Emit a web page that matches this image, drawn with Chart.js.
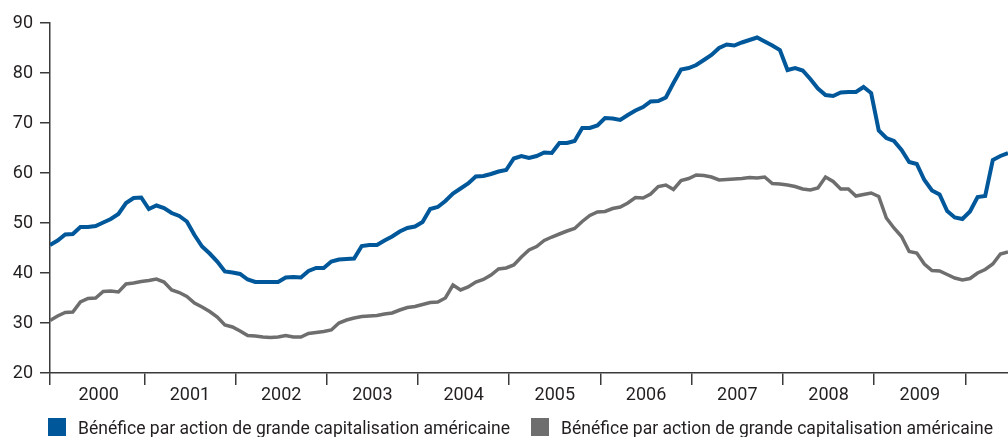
<!DOCTYPE html>
<html>
<head>
<meta charset="utf-8">
<script src="https://cdn.jsdelivr.net/npm/chart.js@4"></script>
<style>
  html, body { margin: 0; padding: 0; background: #fff; }
  #wrap { width: 1008px; height: 437px; position: relative; }
</style>
</head>
<body>
<div id="wrap"><canvas id="epsChart" width="1008" height="437"></canvas></div>
<script>
// Monthly values, Jan 2000 onwards (index 0 = Jan 2000)
const blueSeries = [
  45.6, 46.5, 47.7, 47.8, 49.2, 49.2, 49.4, 50.1, 50.8, 51.8, 54.0, 55.0,
  55.1, 52.8, 53.5, 53.0, 52.0, 51.4, 50.3, 47.6, 45.3, 43.9, 42.3, 40.3,
  40.1, 39.8, 38.7, 38.2, 38.2, 38.2, 38.2, 39.1, 39.2, 39.1, 40.4, 41.0,
  41.0, 42.3, 42.7, 42.8, 42.9, 45.4, 45.6, 45.6, 46.5, 47.3, 48.3, 49.0,
  49.3, 50.2, 52.8, 53.2, 54.4, 55.9, 56.9, 57.9, 59.3, 59.4, 59.8, 60.3,
  60.6, 62.9, 63.4, 63.0, 63.4, 64.1, 64.0, 66.0, 66.0, 66.4, 69.0, 69.0,
  69.5, 71.0, 70.9, 70.6, 71.6, 72.5, 73.2, 74.3, 74.4, 75.1, 78.0, 80.7,
  81.0, 81.6, 82.6, 83.6, 85.0, 85.7, 85.5, 86.1, 86.6, 87.1, 86.3, 85.5,
  84.6, 80.6, 81.0, 80.5, 78.8, 76.9, 75.6, 75.4, 76.1, 76.2, 76.2, 77.2,
  76.0, 68.5, 67.0, 66.4, 64.6, 62.2, 61.8, 58.6, 56.5, 55.7, 52.4, 51.1,
  50.8, 52.3, 55.2, 55.4, 62.6, 63.4, 64.0
];

const graySeries = [
  30.5, 31.4, 32.1, 32.2, 34.2, 34.9, 35.0, 36.3, 36.4, 36.2, 37.8, 38.0,
  38.3, 38.5, 38.8, 38.2, 36.6, 36.1, 35.3, 34.0, 33.2, 32.3, 31.2, 29.6,
  29.2, 28.4, 27.5, 27.4, 27.2, 27.1, 27.2, 27.5, 27.2, 27.2, 27.9, 28.1,
  28.3, 28.6, 30.0, 30.6, 31.0, 31.3, 31.4, 31.5, 31.8, 32.0, 32.6, 33.1,
  33.3, 33.7, 34.1, 34.2, 35.0, 37.6, 36.6, 37.2, 38.2, 38.7, 39.6, 40.8,
  41.0, 41.6, 43.2, 44.6, 45.3, 46.5, 47.2, 47.8, 48.4, 48.9, 50.3, 51.5,
  52.2, 52.3, 52.9, 53.2, 54.0, 55.1, 55.0, 55.8, 57.3, 57.6, 56.7, 58.5,
  58.9, 59.6, 59.5, 59.2, 58.6, 58.7, 58.8, 58.9, 59.1, 59.0, 59.2, 57.9,
  57.8, 57.6, 57.3, 56.8, 56.6, 57.0, 59.2, 58.3, 56.8, 56.8, 55.4, 55.7,
  56.0, 55.3, 51.0, 49.0, 47.3, 44.3, 44.0, 41.8, 40.5, 40.4, 39.7, 39.0,
  38.6, 38.9, 40.0, 40.7, 41.8, 43.8, 44.2
];

const yearLabels = ['2000', '2001', '2002', '2003', '2004', '2005', '2006', '2007', '2008', '2009'];
const yTicks = [20, 30, 40, 50, 60, 70, 80, 90];
const seriesLabel = 'Bénéfice par action de grande capitalisation américaine';

const BLUE = '#00589b';
const GREY = '#6e6e6e';
const INK = '#231f20';
const AXIS = '#3a3a3a';
const FONT = 'Roboto, "Open Sans", sans-serif';

// year boundaries sit slightly after each January point
const YEAR_OFFSET = 0.4;
const toPoints = arr => arr.map((v, i) => ({ x: i, y: v }));

// simple legend drawn under the axis
const bottomLegend = {
    id: 'bottomLegend',
    afterDraw(chart) {
        const ctx = chart.ctx;
        const slots = [48, 531];
        ctx.save();
        ctx.font = '18px ' + FONT;
        ctx.textBaseline = 'alphabetic';
        ctx.textAlign = 'left';
        chart.data.datasets.forEach((ds, i) => {
            const x = slots[i];
            ctx.fillStyle = ds.borderColor;
            ctx.fillRect(x, 418, 18, 18);
            ctx.fillStyle = INK;
            ctx.fillText(ds.label, x + 30, 434, 432);
        });
        ctx.restore();
    }
};

new Chart(document.getElementById('epsChart'), {
    type: 'line',
    data: {
        datasets: [{
            label: seriesLabel,
            data: toPoints(blueSeries),
            borderColor: BLUE,
            backgroundColor: BLUE,
            borderWidth: 4,
            pointRadius: 0,
            tension: 0,
            xAxisID: 'x',
            yAxisID: 'y'
        }, {
            label: seriesLabel,
            data: toPoints(graySeries),
            borderColor: GREY,
            backgroundColor: GREY,
            borderWidth: 3.5,
            pointRadius: 0,
            tension: 0,
            xAxisID: 'x',
            yAxisID: 'y'
        }]
    },
    options: {
        responsive: false,
        animation: false,
        layout: { padding: { top: 23, right: 0, bottom: 22, left: 0 } },
        plugins: {
            legend: { display: false },
            tooltip: { enabled: false }
        },
        scales: {
            x: {
                type: 'linear',
                position: 'bottom',
                weight: 0,
                min: 0,
                max: 126,
                afterBuildTicks: scale => {
                    const t = [{ value: 0 }];
                    for (let k = 1; k <= 10; k++) t.push({ value: 12 * k + YEAR_OFFSET });
                    scale.ticks = t;
                },
                afterFit: scale => { scale.height = 12; },
                ticks: { display: false },
                grid: {
                    drawOnChartArea: false,
                    drawTicks: true,
                    tickLength: 12,
                    color: AXIS,
                    lineWidth: 1.5
                },
                border: { color: AXIS, width: 1.5 }
            },
            x2: {
                type: 'linear',
                position: 'bottom',
                weight: 1,
                min: 0,
                max: 126,
                afterBuildTicks: scale => {
                    scale.ticks = yearLabels.map((_, k) => ({ value: 12 * k + 6 + YEAR_OFFSET }));
                },
                afterFit: scale => { scale.height = 30; },
                ticks: {
                    autoSkip: false,
                    maxRotation: 0,
                    padding: 0,
                    color: INK,
                    font: { family: FONT, size: 18 },
                    callback: (value, index) => yearLabels[index]
                },
                grid: { display: false, drawTicks: false },
                border: { display: false }
            },
            y: {
                min: 20,
                max: 90,
                afterBuildTicks: scale => {
                    scale.ticks = yTicks.map(v => ({ value: v }));
                },
                afterFit: scale => { scale.width = 50; },
                ticks: {
                    padding: 7,
                    color: INK,
                    font: { family: FONT, size: 18 }
                },
                grid: {
                    drawOnChartArea: false,
                    drawTicks: true,
                    tickLength: 10,
                    color: AXIS,
                    lineWidth: 1.5
                },
                border: { color: AXIS, width: 1.5 }
            }
        }
    },
    plugins: [bottomLegend]
});
</script>
</body>
</html>
